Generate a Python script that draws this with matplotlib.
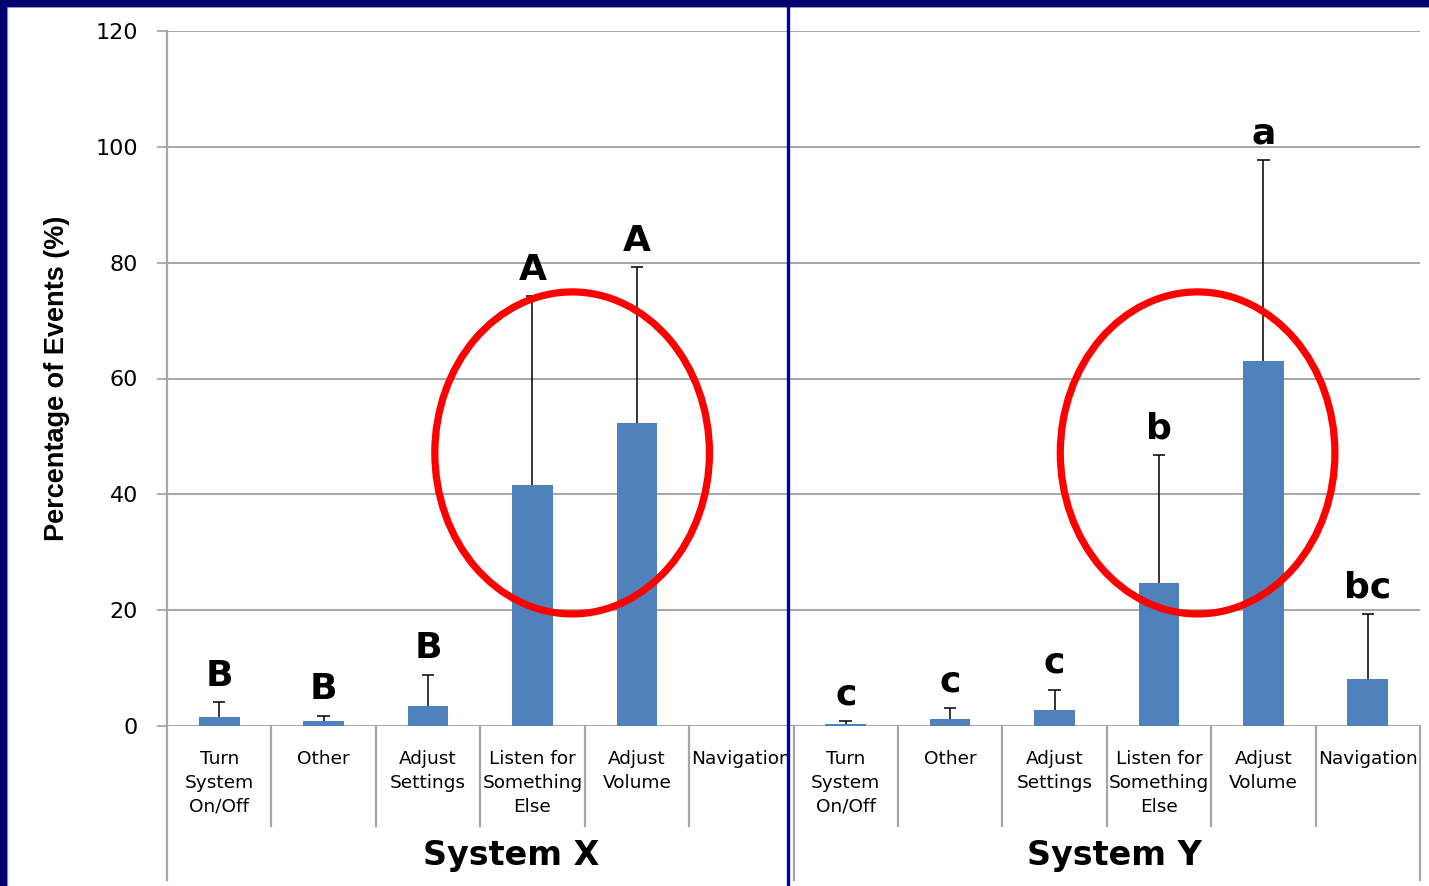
import numpy as np
import matplotlib
matplotlib.use("Agg")
import matplotlib.pyplot as plt
from matplotlib.patches import Ellipse, Rectangle
from matplotlib.lines import Line2D

# ---- data -------------------------------------------------------------
categories = ["Turn\nSystem\nOn/Off", "Other", "Adjust\nSettings",
              "Listen for\nSomething\nElse", "Adjust\nVolume", "Navigation"]
groups = ["System X", "System Y"]

system_x_mean = [1.6, 0.9, 3.5, 41.6, 52.3, 0.0]
system_x_err = [2.5, 0.9, 5.3, 32.6, 26.9, 0.0]
system_x_letters = ["B", "B", "B", "A", "A", ""]

system_y_mean = [0.3, 1.2, 2.8, 24.7, 63.0, 8.1]
system_y_err = [0.6, 1.9, 3.5, 22.1, 34.7, 11.2]
system_y_letters = ["c", "c", "c", "b", "a", "bc"]

y_ticks = [0, 20, 40, 60, 80, 100, 120]

# ---- figure -----------------------------------------------------------
W, H = 1429, 886
fig = plt.figure(figsize=(W / 100, H / 100), dpi=100)
ax_left, ax_right, ax_top, ax_bot = 167, 1420, 31, 726
ax = fig.add_axes([ax_left / W, 1 - ax_bot / H,
                   (ax_right - ax_left) / W, (ax_bot - ax_top) / H])

means = np.array(system_x_mean + system_y_mean, dtype=float)
errs = np.array(system_x_err + system_y_err, dtype=float)
letters = system_x_letters + system_y_letters
labels = categories + categories
n = len(means)
xpos = np.arange(n) + 0.5

bar_color = "#4F81BD"
grid_color = "#A6A6A6"

ax.bar(xpos, means, width=0.39, color=bar_color, zorder=3)

# upper-only error bars with a cap
mask = errs > 0
tops = means + errs
cap_half = 0.06
ax.vlines(xpos[mask], means[mask], tops[mask], color="black",
          linewidth=1.1, zorder=4)
ax.hlines(tops[mask], xpos[mask] - cap_half, xpos[mask] + cap_half,
          color="black", linewidth=1.1, zorder=4)

# significance letters above the error bars
for x, m, e, t in zip(xpos, means, errs, letters):
    if t:
        ax.annotate(t, (x, m + e), xytext=(0, 12), textcoords="offset points",
                    ha="center", va="baseline", fontsize=26,
                    fontweight="bold", color="black", zorder=6)

ax.set_xlim(0, n)
ax.set_ylim(0, 120)
ax.set_yticks(y_ticks)
ax.set_yticklabels([str(v) for v in y_ticks], fontsize=16,
                   family="DejaVu Sans")
ax.set_xticks([])
ax.tick_params(axis="y", length=7, width=1.3, color=grid_color, pad=14)
ax.yaxis.grid(True, color=grid_color, linewidth=1.4, zorder=0)
for s in ["top", "right", "bottom", "left"]:
    ax.spines[s].set_visible(False)

ax.set_ylabel("Percentage of Events (%)", fontsize=19.5, fontweight="bold",
              family="Liberation Sans")
ax.yaxis.set_label_coords(-97 / (ax_right - ax_left), 0.5)

# category / group dividers below the axis
xt = ax.get_xaxis_transform()
ph = ax_bot - ax_top
minor_end = -(826 - ax_bot) / ph
major_end = -(880 - ax_bot) / ph
for b in range(0, n + 1):
    major = b in (0, 6, 12)
    y0 = 1.0 if b == 0 else 0.0
    ax.add_line(Line2D([b, b], [y0, major_end if major else minor_end],
                       transform=xt, color=grid_color, linewidth=1.6,
                       clip_on=False, zorder=2))

# category labels
for x, lab in zip(xpos, labels):
    ax.text(x, -(750 - ax_bot) / ph, lab, transform=xt, ha="center",
            va="top", fontsize=13.3, linespacing=1.42, color="black")

# group labels
for gx, g in zip([3.3, 9.07], groups):
    ax.text(gx, -(855 - ax_bot) / ph, g, transform=xt, ha="center",
            va="center", fontsize=24, fontweight="bold", color="black")

# highlight ellipses
for cx in (3.88, 9.87):
    ax.add_patch(Ellipse((cx, 47.15), width=2.63, height=55.6, fill=False,
                         edgecolor="#FF0000", linewidth=5.2, zorder=5,
                         clip_on=False))

# slide frame
navy = "#000070"
fig.add_artist(Rectangle((0, 1 - 6 / H), 1, 6 / H, transform=fig.transFigure,
                         color=navy, zorder=10))
fig.add_artist(Rectangle((0, 0), 6 / W, 1, transform=fig.transFigure,
                         color=navy, zorder=10))
fig.add_artist(Line2D([0, 1], [1 - 7 / H, 1 - 7 / H], transform=fig.transFigure,
                      color="#B0B0B0", linewidth=1.2, zorder=9))
fig.add_artist(Line2D([7 / W, 7 / W], [0, 1], transform=fig.transFigure,
                      color="#B0B0B0", linewidth=1.0, zorder=9))
fig.add_artist(Line2D([788 / W, 788 / W], [0, 1], transform=fig.transFigure,
                      color="#0000A8", linewidth=2.4, zorder=9))

fig.savefig("out.png", dpi=100)
